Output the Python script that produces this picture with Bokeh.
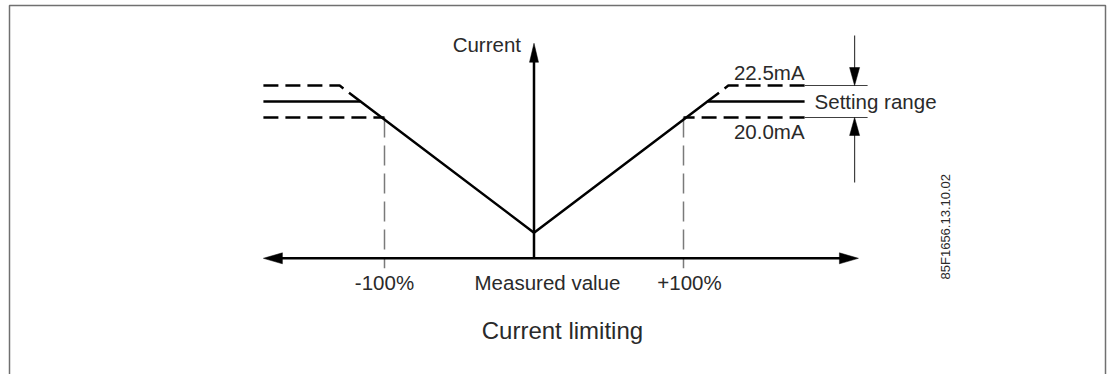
import numpy as np
from bokeh.plotting import figure
from bokeh.models import Range1d
from bokeh.core.properties import value
from bokeh.embed import file_html
from bokeh.resources import INLINE

# ---- data (x: measured value in %, y: current in mA) ----
knee_low_pct = 100        # +/-100 % where curve reaches 20.0 mA
knee_mid_pct = 116        # knee of the set (solid) limit
knee_high_pct = 130       # knee of the 22.5 mA limit
end_pct = 181             # end of plotted horizontal limit lines
axis_left_pct = -181
axis_right_pct = 217
i_min = 20.0              # lower end of setting range (mA)
i_set = 21.25             # example setting (solid)
i_max = 22.5              # upper end of setting range (mA)
i_zero = 11.0             # current at 0 %
axis_y = 9.0              # level of the horizontal axis
axis_top = 25.8           # top of current axis arrow

solid_x = [-end_pct, -knee_mid_pct, 0, knee_mid_pct, end_pct]
solid_y = [i_set, i_set, i_zero, i_set, i_set]
lower_left_x = [-end_pct, -knee_low_pct]
lower_right_x = [knee_low_pct, end_pct]
upper_left_x = [-end_pct, -knee_high_pct, -knee_mid_pct]
upper_left_y = [i_max, i_max, i_set]
upper_right_x = [knee_mid_pct, knee_high_pct, end_pct]
upper_right_y = [i_set, i_max, i_max]

tick_labels = ["-100%", "Measured value", "+100%"]
tick_pos = [-100, 9, 104]
limit_labels = ["22.5mA", "20.0mA"]

# ---- scale helpers (pixel <-> data) ----
PX_X = 1.495   # px per %
PX_Y = 12.8    # px per mA
W, H = 1111, 374
x0 = (0 - 533.5) / PX_X
x1 = x0 + W / PX_X
y1 = 20 + (117 - 0) / PX_Y
y0 = y1 - H / PX_Y

def dx(px):
    return px / PX_X

def dy(px):
    return px / PX_Y

p = figure(width=W, height=H, x_range=Range1d(x0, x1), y_range=Range1d(y0, y1),
           output_backend="svg", toolbar_location=None, min_border=0)
p.axis.visible = False
p.grid.visible = False
p.outline_line_color = None
p.background_fill_color = "white"
p.border_fill_color = "white"

FONT = value("Liberation Sans")
TXT = "#2a2a2a"

# frame (left, top, right)
fx_l = x0 + dx(9)
fx_r = x0 + dx(1105)
fy_t = y1 - dy(5)
p.line([fx_l, fx_l, fx_r, fx_r], [y0 - 1, fy_t, fy_t, y0 - 1], line_color="#707070", line_width=1.5)

# gray dashed verticals at +/-100 %
for xv in (-knee_low_pct, knee_low_pct):
    p.line([xv, xv], [i_min, axis_y - dy(10)], line_color="#7a7a7a", line_width=1.5, line_dash="20 8")

# axes
p.line([axis_left_pct + dx(10), axis_right_pct - dx(10)], [axis_y, axis_y], line_color="black", line_width=2.5)
p.line([0, 0], [axis_y, axis_top - dy(10)], line_color="black", line_width=2.5)

def head(tx, ty, direction, length, half):
    if direction == "right":
        return [tx, tx - dx(length), tx - dx(length)], [ty, ty + dy(half), ty - dy(half)]
    if direction == "left":
        return [tx, tx + dx(length), tx + dx(length)], [ty, ty + dy(half), ty - dy(half)]
    if direction == "up":
        return [tx, tx - dx(half), tx + dx(half)], [ty, ty - dy(length), ty - dy(length)]
    return [tx, tx - dx(half), tx + dx(half)], [ty, ty + dy(length), ty + dy(length)]

heads = [head(axis_right_pct, axis_y, "right", 19, 5.5),
         head(axis_left_pct, axis_y, "left", 19, 5.5),
         head(0, axis_top, "up", 19, 4.5)]

# curves
p.line(solid_x, solid_y, line_color="black", line_width=2.5)
p.line(lower_left_x, [i_min, i_min], line_color="black", line_width=2.5, line_dash="15 7")
p.line(lower_right_x[::-1], [i_min, i_min], line_color="black", line_width=2.5, line_dash="15 7")
p.line(upper_left_x, upper_left_y, line_color="black", line_width=2.5, line_dash="15 7")
p.line(upper_right_x[::-1], upper_right_y[::-1], line_color="black", line_width=2.5, line_dash="15 7")

# setting range dimension
ext_x0 = end_pct
ext_x1 = end_pct + dx(63)
arr_x = end_pct + dx(50)
for yv in (i_max, i_min):
    p.line([ext_x0, ext_x1], [yv, yv], line_color="#404040", line_width=1)
p.line([arr_x, arr_x], [i_max + dy(50), i_max + dy(10)], line_color="#404040", line_width=1.2)
p.line([arr_x, arr_x], [i_min - dy(65), i_min - dy(10)], line_color="#404040", line_width=1.2)
heads.append(head(arr_x, i_max, "down", 18, 5))
heads.append(head(arr_x, i_min, "up", 18, 5))

p.patches([h[0] for h in heads], [h[1] for h in heads], fill_color="black", line_color="black", line_width=0.5)

# texts
p.text(x=[0 - dx(13)], y=[axis_top - dy(1)], text=["Current"], text_font=FONT, text_font_size="20.5px",
       text_color=TXT, text_align="right", text_baseline="middle")
p.text(x=tick_pos, y=[axis_y - dy(24)] * 3, text=tick_labels, text_font=FONT, text_font_size="20.5px",
       text_color=TXT, text_align="center", text_baseline="middle")
p.text(x=[19], y=[axis_y - dy(72)], text=["Current limiting"], text_font=FONT, text_font_size="24px",
       text_color=TXT, text_align="center", text_baseline="middle")
p.text(x=[end_pct, end_pct], y=[i_max + dy(13), i_min - dy(14)], text=limit_labels, text_font=FONT,
       text_font_size="20.5px", text_color=TXT, text_align="right", text_baseline="middle")
p.text(x=[end_pct + dx(10)], y=[i_set], text=["Setting range"], text_font=FONT, text_font_size="20.5px",
       text_color=TXT, text_align="left", text_baseline="middle")
p.text(x=[end_pct + dx(141)], y=[i_zero + dy(6)], text=["85F1656.13.10.02"], angle=np.pi / 2,
       text_font=FONT, text_font_size="13px", text_color=TXT, text_align="center", text_baseline="middle")

open("out.html", "w").write(file_html(p, INLINE))
